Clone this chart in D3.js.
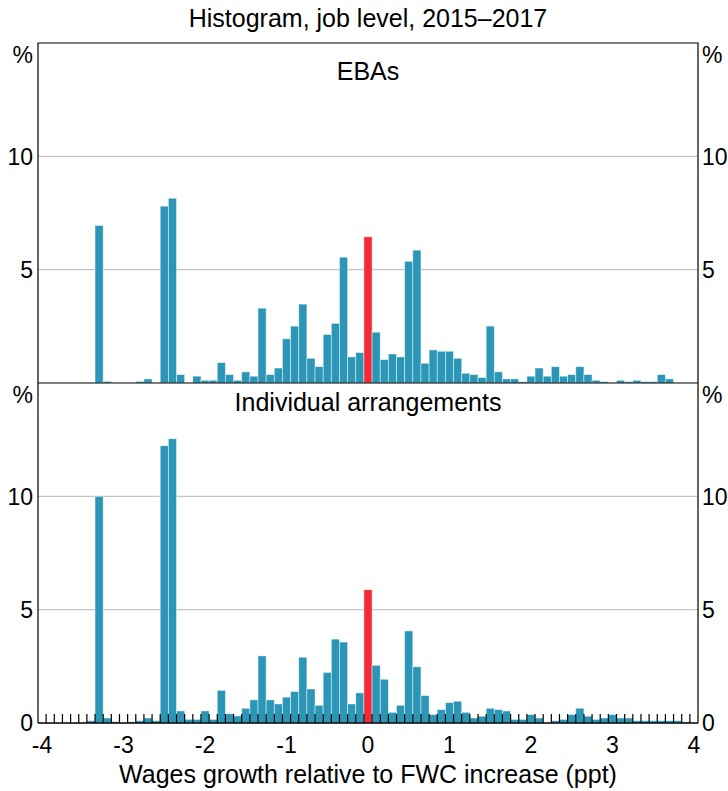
<!DOCTYPE html>
<html>
<head>
    <title>Histogram, job level</title>
    <script src="https://d3js.org/d3.v7.min.js"></script>
    <style>
        body { margin: 0; background: #fff; }
        text { font-family: Arial, "Liberation Sans", sans-serif; fill: #000; }
    </style>
</head>
<body>
    <svg width="728" height="791"></svg>
    <script>
        // bin centres (ppt), one bar per 0.1 ppt
        var bins = [-4.0,-3.9,-3.8,-3.7,-3.6,-3.5,-3.4,-3.3,-3.2,-3.1,-3.0,-2.9,-2.8,-2.7,-2.6,-2.5,-2.4,-2.3,-2.2,-2.1,
                    -2.0,-1.9,-1.8,-1.7,-1.6,-1.5,-1.4,-1.3,-1.2,-1.1,-1.0,-0.9,-0.8,-0.7,-0.6,-0.5,-0.4,-0.3,-0.2,-0.1,
                    0.0,0.1,0.2,0.3,0.4,0.5,0.6,0.7,0.8,0.9,1.0,1.1,1.2,1.3,1.4,1.5,1.6,1.7,1.8,1.9,
                    2.0,2.1,2.2,2.3,2.4,2.5,2.6,2.7,2.8,2.9,3.0,3.1,3.2,3.3,3.4,3.5,3.6,3.7,3.8,3.9,4.0];

        // EBAs, % of jobs
        var ebaValues = [0,0,0,0,0,0,0,6.95,0.07,0,0,0,0.07,0.18,0,7.8,8.15,0.37,0,0.3,
                         0.12,0.12,0.9,0.37,0.12,0.49,0.3,3.3,0.37,0.66,1.95,2.51,3.48,1.09,0.72,2.14,2.63,5.55,1.15,1.34,
                         6.45,2.24,1.03,1.28,1.15,5.37,5.86,0.87,1.46,1.4,1.4,1.09,0.43,0.37,0.24,2.51,0.49,0.18,0.18,0.06,
                         0.3,0.66,0.3,0.72,0.3,0.37,0.72,0.37,0.12,0.06,0,0.12,0.06,0.12,0.06,0.06,0.37,0.18,0,0,0];

        // Individual arrangements, % of jobs
        var indValues = [0,0,0,0,0,0,0.1,10.0,0.22,0.06,0,0.05,0.1,0.22,0.1,12.23,12.54,0.53,0.16,0.16,
                         0.53,0.16,1.44,0.41,0.31,0.65,1.02,2.96,1.02,0.84,1.14,1.39,2.9,1.5,0.78,2.23,3.7,3.57,0.84,1.33,
                         5.88,2.54,1.93,0.47,0.78,4.06,2.48,1.21,0.37,0.59,0.9,0.96,0.47,0.22,0.3,0.65,0.59,0.53,0.16,0.16,
                         0.37,0.22,0,0.1,0.16,0.37,0.65,0.3,0.16,0.22,0.37,0.22,0.22,0.1,0.1,0.1,0.1,0.1,0.1,0.05,0];

        var xTicks = [-4,-3,-2,-1,0,1,2,3,4];
        var yTicks = [5,10];

        var svg = d3.select("svg");
        var left = 38, right = 698;
        var blue = "#2b96b6", red = "#f32a3a";
        var bigFont = "25px", tickFont = "23px";

        var x = d3.scaleLinear().domain([-4.05, 4.05]).range([left, right]);

        var panels = [
            { name: "EBAs", values: ebaValues, top: 43, bottom: 383, labelY: 80, zero: false },
            { name: "Individual arrangements", values: indValues, top: 383, bottom: 723, labelY: 411, zero: true }
        ];

        // title
        svg.append("text")
            .attr("x", 368).attr("y", 27)
            .attr("text-anchor", "middle")
            .style("font-size", bigFont)
            .text("Histogram, job level, 2015\u20132017");

        panels.forEach(function(p) {
            var y = d3.scaleLinear().domain([0, 15]).range([p.bottom, p.top]);
            var g = svg.append("g");

            // gridlines
            g.selectAll(".grid")
                .data(yTicks)
                .enter().append("line")
                .attr("x1", left).attr("x2", right)
                .attr("y1", function(d) { return y(d); })
                .attr("y2", function(d) { return y(d); })
                .attr("stroke", "#c4c4c4")
                .attr("stroke-width", 1.2);

            // bars
            g.selectAll(".bar")
                .data(bins.map(function(b, i) { return { b: b, v: p.values[i] }; }).filter(function(d) { return d.v > 0; }))
                .enter().append("rect")
                .attr("x", function(d) { return x(d.b - 0.05); })
                .attr("width", function(d) { return x(d.b + 0.05) - x(d.b - 0.05); })
                .attr("y", function(d) { return y(d.v); })
                .attr("height", function(d) { return y(0) - y(d.v); })
                .attr("fill", function(d) { return d.b === 0 ? red : blue; })
                .attr("stroke", "#ffffff")
                .attr("stroke-opacity", 0.55)
                .attr("stroke-width", 0.8);

            // panel label
            g.append("text")
                .attr("x", 368).attr("y", p.labelY)
                .attr("text-anchor", "middle")
                .style("font-size", bigFont)
                .text(p.name);

            // y labels, both sides
            var labels = [{ t: "%", v: null }].concat(yTicks.slice().reverse().map(function(d) { return { t: String(d), v: d }; }));
            if (p.zero) labels.push({ t: "0", v: 0 });
            labels.forEach(function(l) {
                var yy = l.v === null ? p.top + 12 : y(l.v);
                g.append("text").attr("x", 33).attr("y", yy).attr("dy", "0.36em")
                    .attr("text-anchor", "end").style("font-size", tickFont).text(l.t);
                g.append("text").attr("x", 702).attr("y", yy).attr("dy", "0.36em")
                    .attr("text-anchor", "start").style("font-size", tickFont).text(l.t);
            });

            // frame
            g.append("path")
                .attr("d", "M" + left + "," + p.bottom + "V" + p.top + "H" + right + "V" + p.bottom)
                .attr("fill", "none").attr("stroke", "#000").attr("stroke-width", 1.2);
        });

        // bottom axis with minor ticks at bin edges, pointing up
        var edges = bins.slice(0, -1).map(function(b) { return b + 0.05; });
        svg.append("g").selectAll("line")
            .data(edges)
            .enter().append("line")
            .attr("x1", function(d) { return x(d); })
            .attr("x2", function(d) { return x(d); })
            .attr("y1", 723).attr("y2", 714)
            .attr("stroke", "#000").attr("stroke-width", 1.2);

        svg.append("line")
            .attr("x1", left).attr("x2", right)
            .attr("y1", 723).attr("y2", 723)
            .attr("stroke", "#000").attr("stroke-width", 1.5);

        svg.append("g").selectAll("text")
            .data(xTicks)
            .enter().append("text")
            .attr("x", function(d) { return x(d); })
            .attr("y", 745).attr("dy", "0.36em")
            .attr("text-anchor", "middle")
            .style("font-size", tickFont)
            .text(function(d) { return d; });

        svg.append("text")
            .attr("x", 368).attr("y", 783)
            .attr("text-anchor", "middle")
            .style("font-size", bigFont)
            .text("Wages growth relative to FWC increase (ppt)");
    </script>
</body>
</html>
